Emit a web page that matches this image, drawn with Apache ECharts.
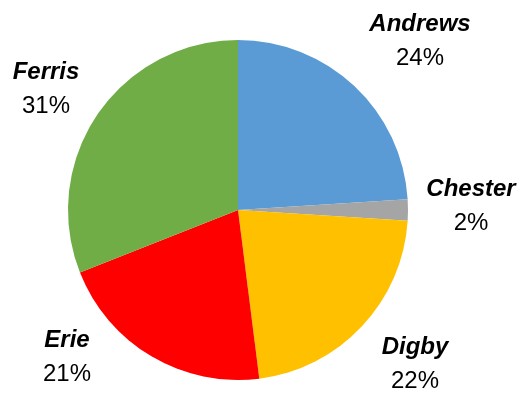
<!DOCTYPE html>
<html>
<head>
<meta charset="utf-8">
<script src="https://cdn.jsdelivr.net/npm/echarts@6/dist/echarts.min.js"></script>
<style>html,body{margin:0;padding:0;background:#fff}#chart{width:520px;height:394px}</style>
</head>
<body>
<div id="chart"></div>
<script>
var names = ['Andrews', 'Chester', 'Digby', 'Erie', 'Ferris'];
var shares = [24, 2, 22, 21, 31];
var colors = ['#5B9BD5', '#A5A5A5', '#FFC000', '#FF0000', '#70AD47'];

// where each label block sits (centre), Excel "best fit" style
var labelSpots = [[420, 41], [471, 206], [415, 364], [67, 357], [46, 89]];

var chart = echarts.init(document.getElementById('chart'), null, {renderer: 'canvas'});
var data = names.map(function (n, i) {
    return {name: n, value: shares[i], itemStyle: {color: colors[i]}};
});
chart.setOption({
    animation: false,
    series: [{
        type: 'pie',
        center: [238, 210],
        radius: [0, 170],
        startAngle: 90,
        clockwise: true,
        data: data,
        label: {
            show: true,
            position: 'inside',
            overflow: 'none',
            formatter: '{n|{b}}\n{p|{c}%}',
            color: '#000',
            rich: {
                n: {fontFamily: 'Liberation Sans', fontWeight: 'bold', fontStyle: 'italic', fontSize: 24, lineHeight: 34, color: '#000', align: 'center'},
                p: {fontFamily: 'Liberation Sans', fontSize: 24, lineHeight: 34, color: '#000', align: 'center'}
            }
        },
        labelLine: {show: false},
        labelLayout: function (p) {
            var s = labelSpots[p.dataIndex];
            return {x: s[0], y: s[1], align: 'center', verticalAlign: 'middle'};
        }
    }]
});
</script>
</body>
</html>
